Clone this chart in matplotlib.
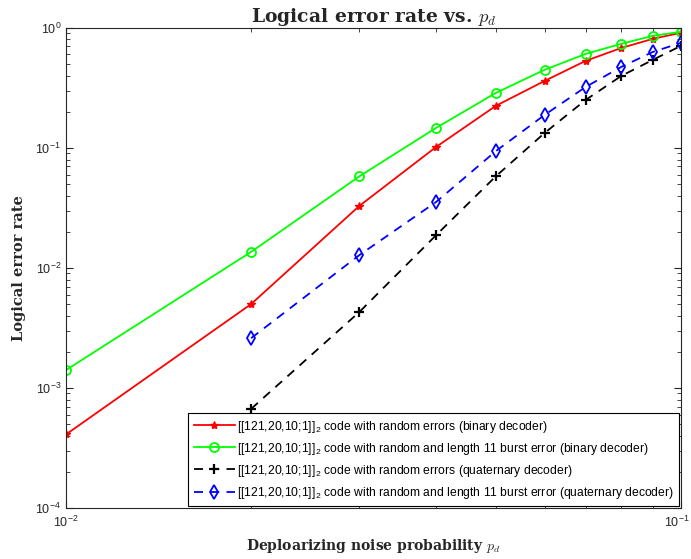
import numpy as np
import matplotlib.pyplot as plt
import matplotlib.transforms as mtransforms
from matplotlib.ticker import LogLocator, FixedLocator, NullFormatter

plt.rcParams['font.family'] = ['Liberation Sans', 'DejaVu Sans']
plt.rcParams['mathtext.fontset'] = 'cm'

# depolarizing noise probabilities
p = [0.01, 0.02, 0.03, 0.04, 0.05, 0.06, 0.07, 0.08, 0.09, 0.1]

# logical error rates for each decoder / error model
ler_bin_random = [4.1e-4, 5.0e-3, 0.0329, 0.102, 0.224, 0.361, 0.531, 0.68, 0.81, 0.91]
ler_bin_burst = [1.41e-3, 0.0136, 0.058, 0.147, 0.287, 0.447, 0.607, 0.736, 0.858, 0.926]
# quaternary decoder curves start at p = 0.02
ler_quat_random = [6.7e-4, 4.3e-3, 0.0188, 0.058, 0.133, 0.251, 0.398, 0.541, 0.708]
ler_quat_burst = [2.6e-3, 0.0128, 0.0355, 0.094, 0.188, 0.322, 0.473, 0.63, 0.75]

code = r'[[121,20,10;1]]$_\mathregular{2}$'
labels = [code + ' code with random errors (binary decoder)',
          code + ' code with random and length 11 burst error (binary decoder)',
          code + ' code with random errors (quaternary decoder)',
          code + ' code with random and length 11 burst error (quaternary decoder)']

fig = plt.figure(figsize=(6.91, 5.59), dpi=100)
ax = fig.add_axes([0.0955, 0.0912, 0.89, 0.859])

ax.loglog(p, ler_bin_random, '-', color='red', lw=1.3, marker='*', ms=6,
          label=labels[0])
ax.loglog(p, ler_bin_burst, '-', color='#00ff00', lw=1.3, marker='o', ms=6.5,
          mfc='none', mew=1.3, label=labels[1])
ax.loglog(p[1:], ler_quat_random, '--', color='black', lw=1.3, marker='+', ms=7,
          mew=1.6, dashes=(5, 4), label=labels[2])
ax.loglog(p[1:], ler_quat_burst, '--', color='blue', lw=1.3, marker='d', ms=7.5,
          mfc='none', mew=1.3, dashes=(5, 4), label=labels[3])

ax.set_xlim(0.01, 0.1)
ax.set_ylim(1e-4, 1)

ax.xaxis.set_major_locator(FixedLocator([0.01, 0.1]))
ax.xaxis.set_minor_locator(LogLocator(base=10, subs=np.arange(2, 10)))
ax.yaxis.set_minor_locator(LogLocator(base=10, subs=np.arange(2, 10)))
ax.xaxis.set_minor_formatter(NullFormatter())
ax.yaxis.set_minor_formatter(NullFormatter())

ax.tick_params(which='both', direction='in', top=True, right=True,
               colors='#262626', labelsize=9)
ax.tick_params(which='major', length=5, width=0.8)
ax.tick_params(which='minor', length=3, width=0.6)
ax.tick_params(axis='x', pad=5)
for s in ax.spines.values():
    s.set_color('#262626')
    s.set_linewidth(0.8)

# keep the 10^-1 label inside the figure edge
right_label = ax.xaxis.get_major_ticks()[1].label1
right_label.set_horizontalalignment('right')
right_label.set_transform(right_label.get_transform() +
                          mtransforms.ScaledTranslation(9 / 100, 0, fig.dpi_scale_trans))

bold_serif = dict(family='DejaVu Serif', weight='bold', color='#262626')
ax.set_title(r'Logical error rate vs. $p_d$', fontsize=13.5, pad=3, **bold_serif)
ax.set_xlabel(r'Deploarizing noise probability $p_d$', fontsize=10,
              labelpad=5, **bold_serif)
ax.set_ylabel('Logical error rate', fontsize=10.5, labelpad=7, **bold_serif)

leg = ax.legend(loc='lower right', fontsize=8.7, fancybox=False,
                edgecolor='black', framealpha=1, borderaxespad=0.15,
                handlelength=3.4, handletextpad=0.2, labelspacing=0.5,
                borderpad=0.45)
leg.get_frame().set_linewidth(0.8)

fig.savefig('out.png', dpi=100)
